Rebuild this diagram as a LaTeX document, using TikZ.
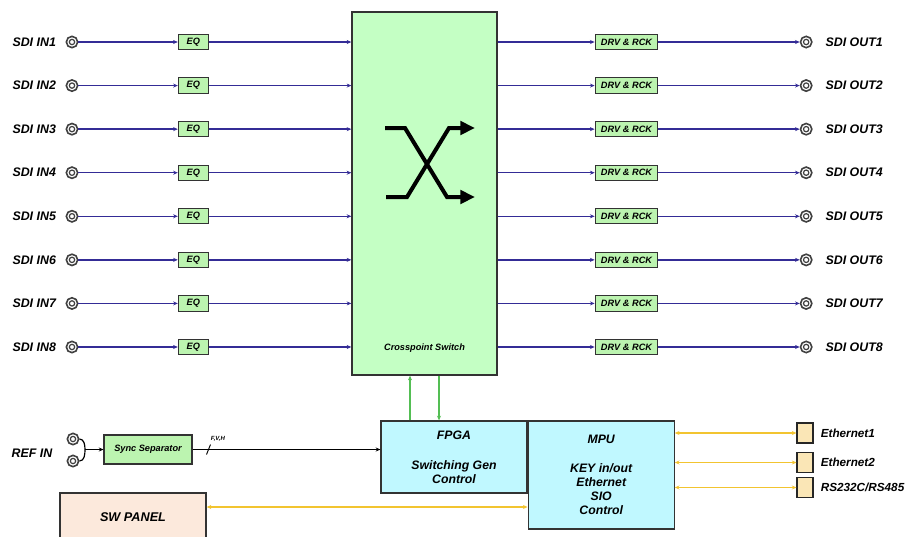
\documentclass[tikz,border=0pt]{standalone}
\usepackage{fontspec}
\setmainfont{Liberation Sans}
\usetikzlibrary{positioning,arrows.meta}
\definecolor{xpgreen}{RGB}{196,255,196}
\definecolor{boxgreen}{RGB}{188,244,176}
\definecolor{ctlcyan}{RGB}{192,248,255}
\definecolor{panelpeach}{RGB}{252,233,220}
\definecolor{portsand}{RGB}{250,230,182}
\definecolor{sigblue}{RGB}{52,44,150}
\definecolor{busyellow}{RGB}{242,196,48}
\definecolor{ctlgreen}{RGB}{84,190,84}
\newcommand{\rowy}[1]{42+43.57*(#1-1)}

\begin{document}
\begin{tikzpicture}[x=0.75pt, y=-0.75pt, node distance=10pt,
  lbl/.style={inner sep=0pt, font=\fontsize{9.3}{11}\selectfont\bfseries\itshape},
  tinytxt/.style={font=\fontsize{6.9}{8}\selectfont\bfseries\itshape},
  midtxt/.style={font=\fontsize{9.2}{10.5}\selectfont\bfseries\itshape, align=center},
  jack/.style={circle, draw=black!75, line width=1.2pt, fill=white, minimum size=8.5pt, inner sep=0pt,
    path picture={\draw[black!75, line width=0.9pt] (path picture bounding box.center) circle (2pt);}},
  smallbox/.style={draw=black!80, line width=0.8pt, fill=boxgreen, minimum height=11.5pt, inner sep=1pt, tinytxt},
  ctlbox/.style={draw=black!80, line width=0.9pt, fill=ctlcyan, minimum width=109.5pt, midtxt},
  portbox/.style={draw=black!85, line width=0.8pt, fill=portsand, minimum width=12pt, minimum height=15pt, inner sep=0pt},
  sig/.style={draw=sigblue, line width=1pt, -{Stealth[length=3.5pt,width=3pt]}},
  bus/.style={draw=busyellow, line width=1.1pt, {Stealth[length=3.5pt,width=3pt]}-{Stealth[length=3.5pt,width=3pt]}},
  ctl/.style={draw=ctlgreen, line width=1pt, -{Stealth[length=3.5pt,width=3pt]}},
  xsym/.style={line width=3pt, -{Triangle[length=11pt,width=10pt]}}]
  \useasboundingbox (0,0) rectangle (909,536);

  % crosspoint switch
  \node (xp) [draw=black!80, line width=1pt, fill=xpgreen, minimum width=108.75pt, minimum height=272.25pt] at (424.5,193.5) {};
  \node (xplbl) [above=14pt of xp.south, tinytxt] {Crosspoint Switch};
  \draw [xsym] (385,128) -- (405,128) -- (447,197) -- (475,197);
  \draw [xsym] (386,197) -- (407,197) -- (449,128) -- (475,128);

  % SDI rows
  \foreach \i in {1,...,8} {
    \node (in\i) [jack] at (72,{\rowy{\i}}) {};
    \node (inlbl\i) [left=7pt of in\i, lbl] {SDI IN\i};
    \node (eq\i) [smallbox, minimum width=22.5pt, right=74.5pt of in\i] {EQ};
    \node (drv\i) [smallbox, minimum width=47pt] at (626.5,{\rowy{\i}}) {DRV \& RCK};
    \node (out\i) [jack, right=106pt of drv\i] {};
    \node (outlbl\i) [right=9.5pt of out\i, lbl] {SDI OUT\i};
    \draw [sig] (in\i) -- (eq\i);
    \draw [sig] (eq\i) -- (eq\i -| xp.west);
    \draw [sig] (drv\i -| xp.east) -- (drv\i);
    \draw [sig] (drv\i) -- (out\i);
  }

  % control section
  \node (fpga) [ctlbox, minimum height=54pt] at (454,457) {FPGA\\[12pt]Switching Gen\\Control};
  \node (mpu) [ctlbox, minimum height=81pt, anchor=north west] at (fpga.north east) {MPU\\[11pt]KEY in/out\\Ethernet\\SIO\\Control};
  \coordinate (up1) at ([shift={(-44,0)}]fpga.north);
  \coordinate (dn1) at ([shift={(-15,0)}]fpga.north);
  \draw [ctl] (up1) -- (up1 |- xp.south);
  \draw [ctl] (dn1 |- xp.south) -- (dn1);

  % reference input
  \node (refa) [jack] at (73,439) {};
  \node (refb) [jack] at (73,461) {};
  \node (reflbl) [lbl] at (32,453) {REF IN};
  \node (sync) [smallbox, minimum width=66pt, minimum height=21.75pt] at (148,449.5) {Sync Separator};
  \coordinate (refj) at (85,449.5);
  \draw [line width=0.9pt] (refa.east) to[out=0,in=90] (refj);
  \draw [line width=0.9pt] (refb.east) to[out=0,in=-90] (refj);
  \draw [line width=0.9pt, -{Stealth[length=3.5pt,width=3pt]}] (refj) -- (sync);
  \draw [line width=1pt, -{Stealth[length=3.5pt,width=3pt]}] (sync) -- coordinate[pos=0.085] (fvh) (sync -| fpga.west);
  \draw [line width=0.7pt] ([shift={(-2,5)}]fvh) -- ([shift={(2,-5)}]fvh);
  \node (fvhlbl) [anchor=south west, inner sep=0pt, font=\fontsize{4.5}{5}\selectfont\bfseries\itshape] at ([shift={(2,-8)}]fvh) {F,V,H};

  % panel and ports
  \node (swp) [draw=black!80, line width=1pt, fill=panelpeach, minimum width=109.5pt, minimum height=36pt, font=\fontsize{9.5}{11}\selectfont\bfseries\itshape] at (133,517) {SW PANEL};
  \coordinate (swl) at ([shift={(0,-10)}]swp.east);
  \draw [bus] (swl) -- (swl -| mpu.west);

  \node (eth1) [portbox] at (805,433) {};
  \node (eth2) [portbox] at (805,462.5) {};
  \node (rs) [portbox] at (805,487.5) {};
  \node (eth1lbl) [right=5.25pt of eth1, lbl, font=\fontsize{8.8}{10}\selectfont\bfseries\itshape] {Ethernet1};
  \node (eth2lbl) [right=5.25pt of eth2, lbl, font=\fontsize{8.8}{10}\selectfont\bfseries\itshape] {Ethernet2};
  \node (rslbl) [right=5.25pt of rs, lbl, font=\fontsize{8.8}{10}\selectfont\bfseries\itshape] {RS232C/RS485};
  \draw [bus] (eth1 -| mpu.east) -- (eth1);
  \draw [bus] (eth2 -| mpu.east) -- (eth2);
  \draw [bus] (rs -| mpu.east) -- (rs);
\end{tikzpicture}
\end{document}
